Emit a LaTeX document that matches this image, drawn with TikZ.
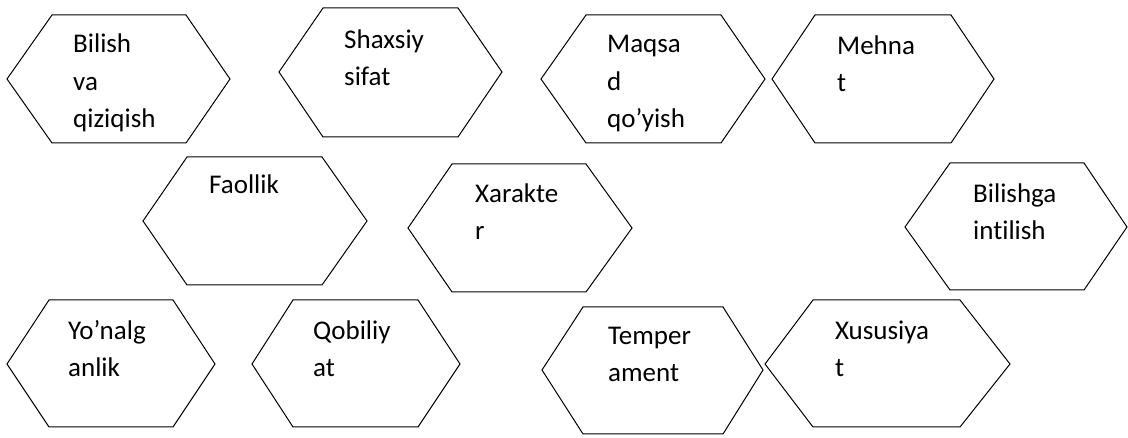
\documentclass[tikz,border=0pt]{standalone}
\usepackage{fontspec}
\setmainfont{Carlito}[Ligatures=NoCommon]
\usepackage{tikz}
\usetikzlibrary{calc}
\newcommand{\wordfont}{\fontsize{27}{37.5}\selectfont}
\tikzstyle{hexa} = [draw,line width=1pt,line join=miter]
\tikzstyle{word} = [anchor=base west,align=left,inner sep=0pt,font=\wordfont]

\begin{document}
\begin{tikzpicture}[x=1pt,y=-1pt]

   \useasboundingbox (0,0) rectangle (1128,438);

%Hexagons: left, top left, top right, right / top, middle, bottom
    \foreach \xl/\xa/\xb/\xr/\yt/\ym/\yb in {7/52/186/230/15/79/143, 279/323/458/502/8/72/137, 541/586/721/765/15/79/143, 772/815/951/994/15/79/143, 143/187/322/367/157/221/285, 408/452/586/632/164/228/292, 905/950/1084/1127/163/227/290, 7/49/173/215/300/364/427, 252/293/418/460/300/364/427, 542/583/723/763/307/370/434, 765/813/960/1010/300/364/427}
        \draw[hexa] (\xl,\ym) -- (\xa,\yt) -- (\xb,\yt) -- (\xr,\ym) -- (\xb,\yb) -- (\xa,\yb) -- cycle;

% texts: position = baseline of the last line
%row 1 (text boxes cut at the bottom)
  \begin{scope}
    \clip (0,0) rectangle (1128,132);
    \foreach \pos/\name/\txt in {{(73,128)/bilish/{Bilish\\va\\qiziqish}}, {(344,86)/shaxsiy/{Shaxsiy\\sifat}}, {(607,128)/maqsad/{Maqsa\\d\\qo’yish}}, {(837,92)/mehnat/{Mehna\\t}}}
        \node[word] (\name) at \pos {\txt};
  \end{scope}

%row 2
    \foreach \pos/\name/\txt in {{(209,194)/faollik/{Faollik}}, {(475,240)/xarakter/{Xarakte\\r}}, {(973,240)/intilish/{Bilishga\\intilish}}}
        \node[word] (\name) at \pos {\txt};

%row 3
    \foreach \pos/\name/\txt in {{(68,377)/yonalganlik/{Yo’nalg\\anlik}}, {(313,377)/qobiliyat/{Qobiliy\\at}}, {(608,382)/temperament/{Temper\\ament}}, {(835,377)/xususiyat/{Xususiya\\t}}}
        \node[word] (\name) at \pos {\txt};

\end{tikzpicture}
\end{document}
